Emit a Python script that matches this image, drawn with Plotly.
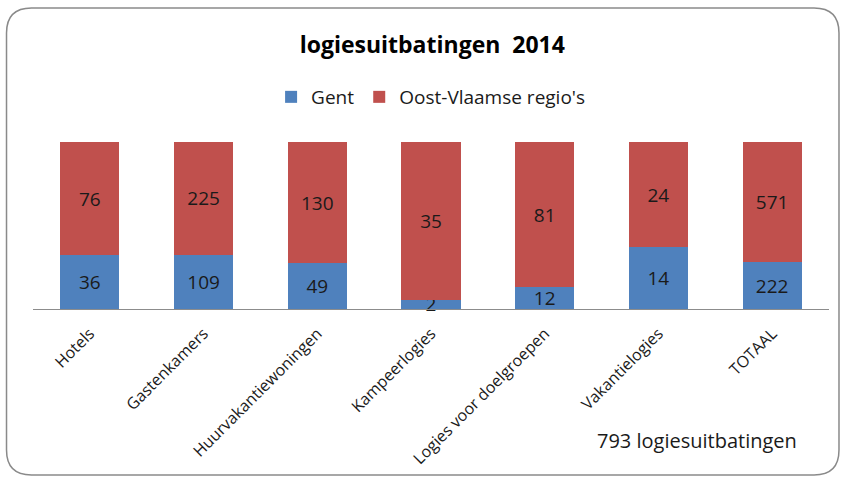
import plotly.graph_objects as go

categories = ["Hotels", "Gastenkamers", "Huurvakantiewoningen", "Kampeerlogies",
              "Logies voor doelgroepen", "Vakantielogies", "TOTAAL"]
gent = [36, 109, 49, 2, 12, 14, 222]
oost_vlaamse = [76, 225, 130, 35, 81, 24, 571]
series_names = ["Gent", "Oost-Vlaamse regio's"]
title_text = "logiesuitbatingen  2014"
note_text = "793 logiesuitbatingen"

FONT = "Open Sans, Noto Sans, sans-serif"
W, H = 841, 478
L, R, T, B = 32.5, 12, 142, 169
pw, ph = W - L - R, H - T - B

def px(x):
    return (x - L) / pw

def py(y):
    return (H - B - y) / ph

fig = go.Figure()
for name, vals, col in [(series_names[0], gent, "#4F81BD"), (series_names[1], oost_vlaamse, "#C0504D")]:
    fig.add_trace(go.Bar(
        x=categories, y=vals, name=name, marker=dict(color=col, line=dict(width=0)),
        text=vals, texttemplate="%{text}", textposition="inside", insidetextanchor="middle",
        textangle=0, textfont=dict(size=19, color="#1a1a1a", family=FONT), constraintext="none",
        cliponaxis=False,
    ))

# rounded border path in paper coords
x0, x1, y0, y1 = 6, 839, 8, 475
r = 25
def P(x, y):
    return f"{px(x):.5f},{py(y):.5f}"
path = (f"M {P(x0 + r, y0)} L {P(x1 - r, y0)} Q {P(x1, y0)} {P(x1, y0 + r)} "
        f"L {P(x1, y1 - r)} Q {P(x1, y1)} {P(x1 - r, y1)} "
        f"L {P(x0 + r, y1)} Q {P(x0, y1)} {P(x0, y1 - r)} "
        f"L {P(x0, y0 + r)} Q {P(x0, y0)} {P(x0 + r, y0)} Z")

fig.update_layout(
    width=W, height=H,
    margin=dict(l=L, r=R, t=T, b=B, autoexpand=False),
    paper_bgcolor="white", plot_bgcolor="white",
    barmode="stack", barnorm="percent", bargap=0.48,
    uniformtext=dict(minsize=19, mode="show"),
    title=dict(text=f"<b>{title_text}</b>", x=0.514, xanchor="center", y=1 - 45 / H, yanchor="middle",
               xref="container", yref="container",
               font=dict(size=23, color="black", family=FONT)),
    legend=dict(orientation="h", x=0.512, xanchor="center", y=1 - 97 / H, yanchor="middle",
                xref="container", yref="container",
                font=dict(size=19, color="#1a1a1a", family=FONT), itemwidth=30,
                traceorder="normal", tracegroupgap=0),
    font=dict(family=FONT),
    xaxis=dict(showline=True, linecolor="#8c8c8c", linewidth=1, tickangle=-45, automargin=False,
               tickfont=dict(size=16, color="#1a1a1a", family=FONT),
               ticklabelstandoff=8, ticks="", showgrid=False),
    yaxis=dict(visible=False, range=[0, 100], showgrid=False, automargin=False),
    shapes=[dict(type="path", xref="paper", yref="paper", path=path,
                 line=dict(color="#8a8a8a", width=1.5), fillcolor="rgba(0,0,0,0)", layer="below")],
    annotations=[dict(text=note_text, xref="paper", yref="paper", x=px(697), y=py(440),
                      showarrow=False, xanchor="center", yanchor="middle",
                      font=dict(size=20, color="#1a1a1a", family=FONT))],
)

fig.write_html("out.html", config={"displayModeBar": False},
               post_script="document.body.style.margin='0';document.body.style.overflow='hidden';")
